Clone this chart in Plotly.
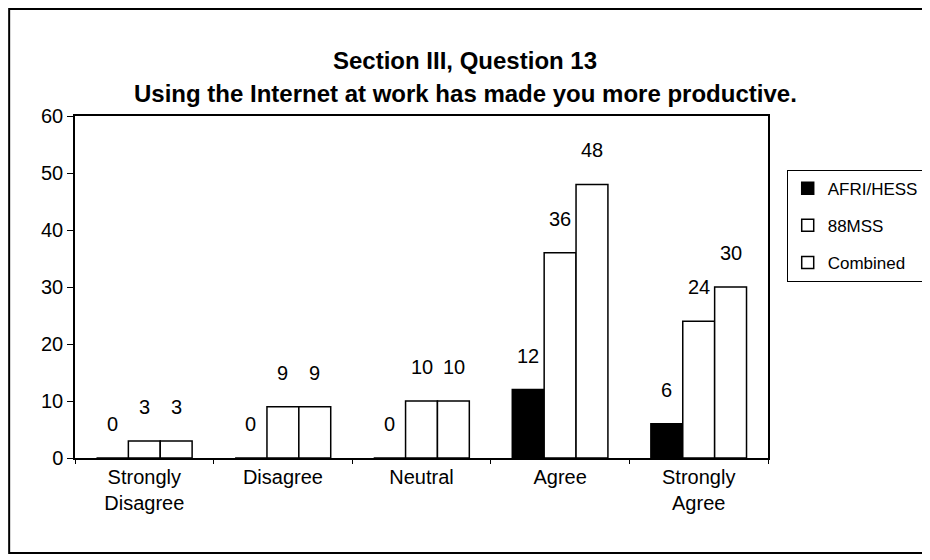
import plotly.graph_objects as go

categories = ["Strongly<br>Disagree", "Disagree", "Neutral", "Agree", "Strongly<br>Agree"]
afri_hess = [0, 0, 0, 12, 6]
mss88 = [3, 9, 10, 36, 24]
combined = [3, 9, 10, 48, 30]
series_names = ["AFRI/HESS", "88MSS", "Combined"]
series_colors = ["black", "white", "white"]

FONT = "Liberation Sans, Arial, sans-serif"

fig = go.Figure()
for i, (name, vals, col) in enumerate(zip(series_names, [afri_hess, mss88, combined], series_colors)):
    fig.add_trace(go.Bar(
        x=categories, y=vals, name=name, legendgroup=name,
        marker=dict(color=col, line=dict(color="black", width=1.5)),
    ))
    # value labels above each bar
    for c, v in zip(categories, vals):
        fig.add_annotation(x=c, y=v, xref="x", yref="y", text=str(v), showarrow=False,
                           xshift=(i - 1) * 32, yshift=34, yanchor="middle",
                           font=dict(size=20, color="black", family=FONT))

# title lines
fig.add_annotation(x=0.563, y=1.208, xref="paper", yref="paper", showarrow=False,
                   text="<b>Section III, Question 13</b>",
                   font=dict(size=24, color="black", family=FONT))
fig.add_annotation(x=0.563, y=1.111, xref="paper", yref="paper", showarrow=False,
                   text="<b>Using the Internet at work has made you more productive.</b>",
                   font=dict(size=24, color="black", family=FONT))

# outer frame
fig.add_shape(type="rect", xref="paper", yref="paper",
              x0=-0.095, x1=1.231, y0=-0.278, y1=1.313,
              line=dict(color="black", width=2), fillcolor="rgba(0,0,0,0)", layer="below")

fig.update_layout(
    width=930, height=560,
    margin=dict(l=67, r=170, t=108, b=110, autoexpand=False),
    paper_bgcolor="white", plot_bgcolor="white",
    barmode="group", bargap=0.31, bargroupgap=0,
    font=dict(family=FONT, size=20, color="black"),
    showlegend=True,
    legend=dict(x=1.027, y=0.843, xanchor="left", yanchor="top",
                bordercolor="black", borderwidth=1, bgcolor="white",
                tracegroupgap=12, font=dict(size=17, family=FONT),
                itemwidth=30),
)
fig.update_xaxes(showline=True, mirror=True, linecolor="black", linewidth=1.5,
                 ticks="outside", tickson="boundaries", ticklen=4, tickcolor="black",
                 showgrid=False, tickfont=dict(size=20))
fig.update_yaxes(range=[0, 60], dtick=10, showline=True, mirror=True, linecolor="black",
                 linewidth=1.5, ticks="outside", ticklen=6, tickcolor="black",
                 showgrid=False, zeroline=False, tickfont=dict(size=20))

fig.write_html("out.html")
